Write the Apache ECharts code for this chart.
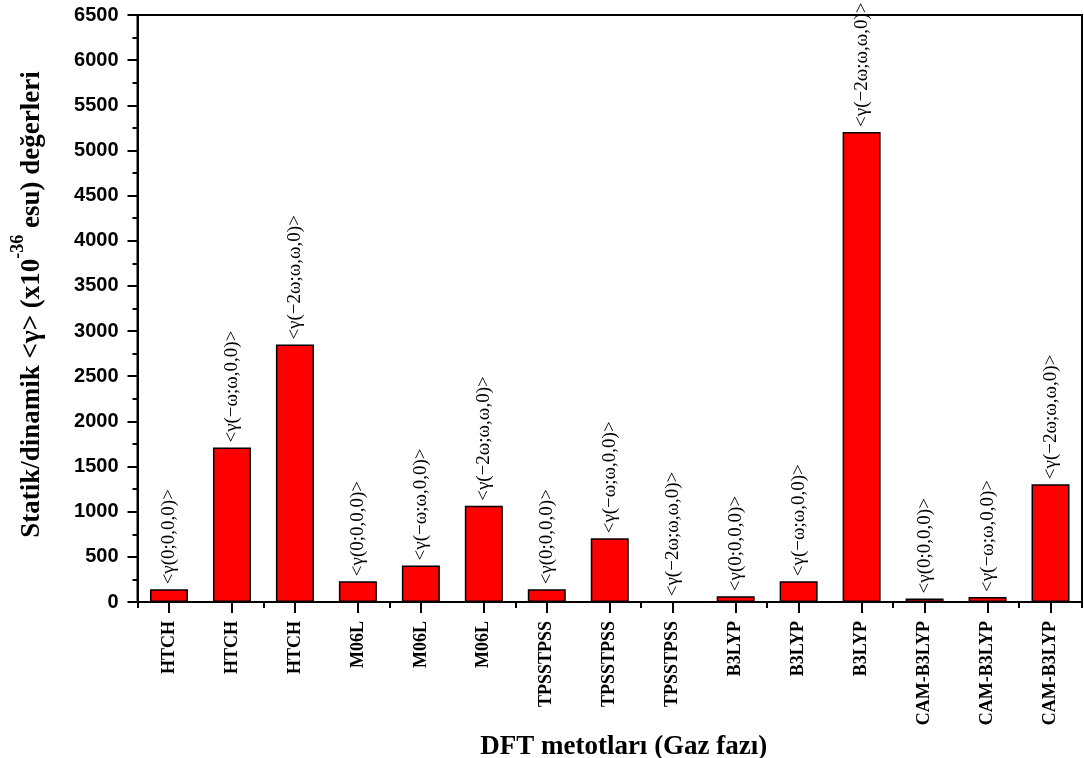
<!DOCTYPE html>
<html>
<head>
<meta charset="utf-8">
<script src="https://cdn.jsdelivr.net/npm/echarts@6/dist/echarts.min.js"></script>
<style>
  html, body { margin: 0; padding: 0; background: #ffffff; }
  #chart { width: 1084px; height: 758px; }
</style>
</head>
<body>
<div id="chart"></div>
<script>
// DFT methods (gas phase), one bar per static/dynamic hyperpolarizability component
const methods = ['HTCH', 'HTCH', 'HTCH', 'M06L', 'M06L', 'M06L',
                 'TPSSTPSS', 'TPSSTPSS', 'TPSSTPSS', 'B3LYP', 'B3LYP', 'B3LYP',
                 'CAM-B3LYP', 'CAM-B3LYP', 'CAM-B3LYP'];
const components = ['<γ(0;0,0,0)>', '<γ(−ω;ω,0,0)>', '<γ(−2ω;ω,ω,0)>'];
const gammaValues = [140, 1710, 2850, 230, 405, 1065, 140, 705, 0, 65, 230, 5205, 40, 55, 1305];
const yTicks = { min: 0, max: 6500, interval: 500 };

const serif = '"Liberation Serif", "Times New Roman", serif';
const sans = '"Liberation Sans", Arial, sans-serif';

const chart = echarts.init(document.getElementById('chart'), null, { renderer: 'canvas' });

const axisLine = { show: true, lineStyle: { color: '#000', width: 2 } };

chart.setOption({
  backgroundColor: '#ffffff',
  animation: false,
  grid: {
    left: 137.5, right: 2, top: 15, bottom: 156,
    containLabel: false,
    outerBoundsMode: 'none',
    show: true, borderColor: '#000', borderWidth: 2, backgroundColor: 'transparent'
  },
  xAxis: [
    {
      type: 'category',
      data: methods,
      position: 'bottom',
      axisLine: axisLine,
      axisTick: { show: true, alignWithLabel: true, length: 11, lineStyle: { color: '#000', width: 2 } },
      axisLabel: {
        rotate: 90, margin: 19, interval: 0,
        color: '#000', fontFamily: serif, fontWeight: 'bold', fontSize: 18
      },
      name: 'DFT metotları (Gaz fazı)',
      nameLocation: 'middle',
      nameGap: 127,
      nameTextStyle: {
        color: '#000', fontFamily: serif, fontWeight: 'bold', fontSize: 27,
        padding: [0, 0, 0, 28]
      }
    },
    {
      type: 'category',
      data: methods,
      position: 'bottom',
      axisLine: { show: false },
      axisTick: { show: true, alignWithLabel: false, length: 6, lineStyle: { color: '#000', width: 2 } },
      axisLabel: { show: false }
    }
  ],
  yAxis: {
    type: 'value',
    min: yTicks.min, max: yTicks.max, interval: yTicks.interval,
    axisLine: axisLine,
    axisTick: { show: true, length: 10, lineStyle: { color: '#000', width: 2 } },
    minorTick: { show: true, splitNumber: 2, length: 5, lineStyle: { color: '#000', width: 2 } },
    splitLine: { show: false },
    axisLabel: {
      margin: 19, color: '#000', fontFamily: sans, fontWeight: 'bold', fontSize: 20,
      formatter: (v) => String(v)
    },
    name: '{b|Statik/dinamik <γ> (x10}{s|-36}{b| esu) değerleri}',
    nameLocation: 'middle',
    nameGap: 92,
    nameTextStyle: {
      padding: [0, 0, 0, 8],
      rich: {
        b: { color: '#000', fontFamily: serif, fontWeight: 'bold', fontSize: 27, lineHeight: 36, verticalAlign: 'bottom' },
        s: { color: '#000', fontFamily: serif, fontWeight: 'bold', fontSize: 18, lineHeight: 36, verticalAlign: 'top' }
      }
    }
  },
  series: [{
    type: 'bar',
    xAxisIndex: 0,
    data: gammaValues,
    barWidth: 38,
    itemStyle: { color: '#ff0000', borderColor: '#000', borderWidth: 1.5 },
    label: {
      show: true,
      position: 'top',
      rotate: 90,
      align: 'left',
      verticalAlign: 'middle',
      distance: 5,
      color: '#000',
      fontFamily: serif,
      fontSize: 19,
      formatter: (p) => components[p.dataIndex % 3]
    }
  }]
});
</script>
</body>
</html>
